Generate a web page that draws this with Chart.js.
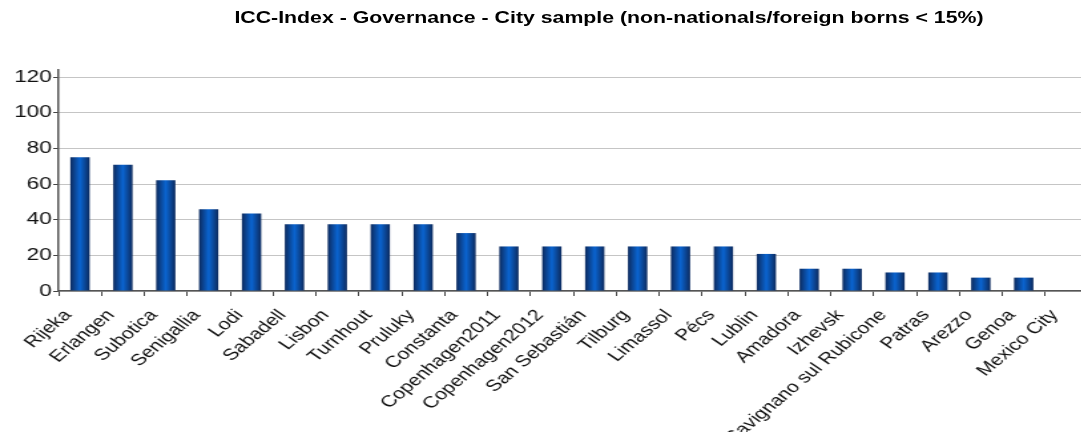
<!DOCTYPE html>
<html lang="en">
<head>
<meta charset="UTF-8">
<title>ICC-Index - Governance - City sample</title>
<script src="https://cdn.jsdelivr.net/npm/chart.js"></script>
<style>
  html, body { margin: 0; padding: 0; background: #fff; overflow: hidden; }
  #wrap { position: relative; width: 1081px; height: 432px; overflow: hidden; }
  /* the original picture is stretched sideways and cut on the right,
     so the chart is drawn narrow, widened by css and clipped by the wrapper */
  #title { position: absolute; top: 9px; left: 0; width: 1218px; text-align: center;
           font: bold 16px "Liberation Sans", Arial, sans-serif; color: #000; white-space: nowrap;
           transform: scaleX(1.33); transform-origin: 609px 0; }
  #chart { position: absolute; left: 0; top: 0; }
</style>
</head>
<body>
<div id="wrap">
  <canvas id="chart" width="830" height="432" style="width:1104px;height:432px"></canvas>
  <div id="title">ICC-Index - Governance - City sample (non-nationals/foreign borns &lt; 15%)</div>
</div>

<script>
  const cities = ['Rijeka', 'Erlangen', 'Subotica', 'Senigallia', 'Lodi', 'Sabadell', 'Lisbon',
    'Turnhout', 'Pruluky', 'Constanta', 'Copenhagen2011', 'Copenhagen2012', 'San Sebastián',
    'Tilburg', 'Limassol', 'Pécs', 'Lublin', 'Amadora', 'Izhevsk', 'Savignano sul Rubicone',
    'Patras', 'Arezzo', 'Genoa', 'Mexico City'];
  const scores = [75, 70.8, 62.2, 45.8, 43.5, 37.5, 37.5, 37.5, 37.5, 32.5, 25, 25, 25,
    25, 25, 25, 20.8, 12.5, 12.5, 10.4, 10.4, 7.5, 7.5, 0];
  const yTicks = [0, 20, 40, 60, 80, 100, 120];

  const barPct = 0.45;
  const font = '"Liberation Sans", Arial, sans-serif';

  // dark edges, bright blue middle - the cylinder look of the original bars
  function barShade(c) {
    const chart = c.chart;
    const xs = chart.scales.x;
    if (!xs || !chart.chartArea || c.dataIndex === undefined) return '#0a4fa8';
    const cx = xs.getPixelForValue(c.dataIndex);
    const half = xs.width / cities.length * barPct / 2;
    const g = chart.ctx.createLinearGradient(cx - half, 0, cx + half, 0);
    g.addColorStop(0, '#0c2a5e');
    g.addColorStop(0.5, '#0a64d0');
    g.addColorStop(1, '#0c2a5e');
    return g;
  }

  new Chart(document.getElementById('chart'), {
    type: 'bar',
    data: {
      labels: cities,
      datasets: [{
        data: scores,
        backgroundColor: barShade,
        borderWidth: 0,
        barPercentage: barPct,
        categoryPercentage: 1
      }]
    },
    options: {
      responsive: false,
      animation: false,
      devicePixelRatio: 1,
      layout: { padding: { top: 70, right: 12, left: 0, bottom: 0 } },
      plugins: {
        legend: { display: false },
        title: { display: false },
        tooltip: { enabled: false }
      },
      scales: {
        x: {
          grid: { drawOnChartArea: false, drawTicks: true, tickLength: 5, tickColor: '#444', offset: true },
          border: { color: '#555', width: 1.5 },
          ticks: {
            color: '#111', font: { family: font, size: 16 },
            minRotation: 48, maxRotation: 48, autoSkip: false,
            padding: 10, labelOffset: -9
          },
          afterFit: s => { s.height = 141; }
        },
        y: {
          min: 0,
          max: 124,
          afterBuildTicks: s => { s.ticks = yTicks.map(v => ({ value: v })); },
          grid: { color: '#8a8a8a', tickColor: '#444', tickLength: 4, drawTicks: true },
          border: { color: '#555', width: 1.5, dash: [1, 1] },
          ticks: { color: '#111', font: { family: font, size: 17 }, padding: 1 },
          afterFit: s => { s.width = 44; }
        }
      }
    }
  });
</script>
</body>
</html>
